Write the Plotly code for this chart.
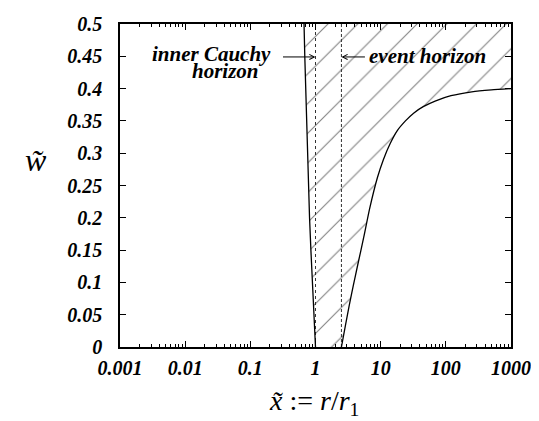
import math
import plotly.graph_objects as go

# ---- data ----
left_w = [0.0, 0.05, 0.1, 0.15, 0.2, 0.25, 0.3, 0.35, 0.4, 0.45, 0.5]
left_x = [1.0, 0.94, 0.89, 0.85, 0.81, 0.78, 0.75, 0.725, 0.705, 0.685, 0.667]

right_x = [2.5, 2.9, 3.3, 3.8, 4.4, 5.5, 6.8, 8.9, 11, 14, 18, 24, 32, 45, 70, 120, 250, 500, 1000]
right_w = [0.0, 0.035, 0.065, 0.095, 0.125, 0.17, 0.215, 0.262, 0.29, 0.315, 0.335, 0.35, 0.362, 0.372, 0.381, 0.389, 0.395, 0.398, 0.4]

inner_horizon = 1.0
event_horizon = 2.5

x_tickvals = [0.001, 0.01, 0.1, 1, 10, 100, 1000]
x_ticktext = ["0.001", "0.01", "0.1", "1", "10", "100", "1000"]
y_tickvals = [0, 0.05, 0.1, 0.15, 0.2, 0.25, 0.3, 0.35, 0.4, 0.45, 0.5]
y_ticktext = ["0", "0.05", "0.1", "0.15", "0.2", "0.25", "0.3", "0.35", "0.4", "0.45", "0.5"]

y_top = 0.5

SERIF = "Liberation Serif, Times New Roman, Times, serif"

# ---- figure ----
fig = go.Figure()

# hatched region between the curves
poly_x = list(left_x) + [right_x[-1]] + list(reversed(right_x))
poly_y = list(left_w) + [y_top] + list(reversed(right_w))
fig.add_trace(go.Scatter(
    x=poly_x, y=poly_y, mode="lines", fill="toself",
    line=dict(width=0, color="rgba(0,0,0,0)"),
    fillcolor="rgba(0,0,0,0)",
    fillpattern=dict(shape="/", size=21, solidity=0.05,
                     fgcolor="black", bgcolor="rgba(255,255,255,0)"),
    hoverinfo="skip", showlegend=False))

# vertical horizon lines
fig.add_trace(go.Scatter(x=[inner_horizon, inner_horizon], y=[0, y_top], mode="lines",
                         line=dict(color="#333", width=1, dash="dot"), showlegend=False))
fig.add_trace(go.Scatter(x=[event_horizon, event_horizon], y=[0, y_top], mode="lines",
                         line=dict(color="#333", width=1, dash="3px,2px"), showlegend=False))

# curves
fig.add_trace(go.Scatter(x=left_x, y=left_w, mode="lines",
                         line=dict(color="black", width=1.3), showlegend=False))
fig.add_trace(go.Scatter(x=right_x, y=right_w, mode="lines", line_shape="spline",
                         line=dict(color="black", width=1.3, smoothing=0.6), showlegend=False))

tickfont = dict(family=SERIF, size=20, color="black", weight="bold", style="italic")

minor_x = [k * 10.0 ** e for e in range(-3, 3) for k in range(2, 10)]

fig.update_xaxes(type="log", range=[-3, 3], tickvals=x_tickvals, ticktext=x_ticktext,
                 ticks="inside", ticklen=6, tickwidth=1, tickcolor="black",
                 minor=dict(tickmode="array", tickvals=minor_x, ticks="inside", ticklen=3,
                            tickcolor="black", showgrid=False),
                 showline=True, linecolor="black", linewidth=1.5, mirror="ticks",
                 showgrid=False, zeroline=False, tickfont=tickfont, ticklabelstandoff=2,
                 automargin=False)
fig.update_yaxes(range=[0, 0.5], tickvals=y_tickvals, ticktext=y_ticktext,
                 ticks="inside", ticklen=6, tickwidth=1, tickcolor="black",
                 showline=True, linecolor="black", linewidth=1.5, mirror="ticks",
                 showgrid=False, zeroline=False, tickfont=tickfont, ticklabelstandoff=12,
                 automargin=False)

L, R, T, B = 112, 36, 16, 82
W, H = 539, 421
pw, ph = W - L - R, H - T - B


def px2paper(px, py):
    return (px - L) / pw, (H - B - py) / ph


ann_font = dict(family=SERIF, size=21, color="black", weight="bold", style="italic")
annotations = []
for text, (px, py) in [("inner Cauchy", (203, 46)), ("horizon", (217, 63)), ("event horizon", (419, 48))]:
    xp, yp = px2paper(px, py)
    annotations.append(dict(text=text, x=xp, y=yp, xref="paper", yref="paper",
                            showarrow=False, font=ann_font, xanchor="center", yanchor="middle"))

# arrows pointing at horizons
annotations.append(dict(text="", x=math.log10(inner_horizon), y=0.449, xref="x", yref="y",
                        ax=-34, ay=0, showarrow=True, arrowhead=5, arrowsize=1, arrowwidth=1,
                        arrowcolor="black", standoff=0))
annotations.append(dict(text="", x=math.log10(event_horizon), y=0.449, xref="x", yref="y",
                        ax=25, ay=0, showarrow=True, arrowhead=5, arrowsize=1, arrowwidth=1,
                        arrowcolor="black", standoff=0))

# axis titles
xp, yp = px2paper(28, 152)
annotations.append(dict(text="<i>w̃</i>", x=xp, y=yp, xref="paper", yref="paper", showarrow=False,
                        font=dict(family=SERIF, size=32, color="black"),
                        xanchor="center", yanchor="middle"))
xp, yp = px2paper(306, 394)
annotations.append(dict(text="<i>x̃</i> := <i>r</i>/<i>r</i><sub>1</sub>", x=xp, y=yp,
                        xref="paper", yref="paper", showarrow=False,
                        font=dict(family=SERIF, size=28, color="black"),
                        xanchor="center", yanchor="middle"))

fig.update_layout(width=W, height=H, margin=dict(l=L, r=R, t=T, b=B),
                  paper_bgcolor="white", plot_bgcolor="white",
                  annotations=annotations, showlegend=False)

fig.write_html("out.html")
